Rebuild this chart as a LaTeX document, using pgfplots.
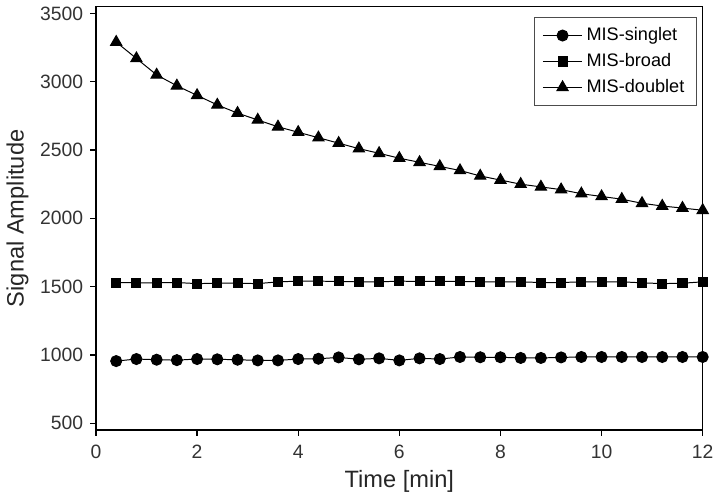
\documentclass[border=0pt]{standalone}
\usepackage{fontspec}
\setmainfont{Liberation Sans}
\usepackage{pgfplots}
\pgfplotsset{compat=1.18}
\begin{document}
\begin{tikzpicture}
\begin{axis}[
  scale only axis,
  width=308pt, height=215pt,
  xmin=0, xmax=12, ymin=450, ymax=3550,
  xtick={0,2,4,6,8,10,12},
  ytick={500,1000,1500,2000,2500,3000,3500},
  tick align=outside,
  xtick pos=bottom, ytick pos=left,
  major tick length=3pt,
  axis line style={line width=0.8pt},
  tick style={line width=0.6pt, black},
  /pgf/number format/assume math mode=true,
  /pgf/number format/1000 sep={},
  tick label style={font=\fontsize{9.8}{11}\selectfont, text=black!80},
  xticklabel style={yshift=-1pt},
  xlabel={Time [min]}, ylabel={Signal Amplitude},
  label style={font=\fontsize{12}{14}\selectfont, text=black!85},
  xlabel style={yshift=1pt},
  ylabel style={yshift=-1pt},
  legend style={at={(rel axis cs:0.99,0.975)}, anchor=north east, draw=black!70, line width=0.5pt,
    font=\fontsize{9.2}{11}\selectfont, row sep=1pt, inner xsep=4pt, inner ysep=3pt},
  legend cell align=left,
  legend image code/.code={
    \draw[mark repeat=2,mark phase=2,#1] plot coordinates {(0cm,0cm) (0.35cm,0cm) (0.7cm,0cm)};
  },
]
\addplot[black, line width=0.5pt, mark=*, mark size=2.8pt, mark options={solid, fill=black}] coordinates {
(0.4,955)(0.8,970)(1.2,965)(1.6,962)(2.0,970)(2.4,968)(2.8,965)(3.2,960)(3.6,960)(4.0,970)
(4.4,972)(4.8,982)(5.2,968)(5.6,975)(6.0,960)(6.4,975)(6.8,970)(7.2,985)(7.6,983)(8.0,983)
(8.4,978)(8.8,978)(9.2,982)(9.6,985)(10.0,985)(10.4,985)(10.8,985)(11.2,985)(11.6,985)(12.0,985)};
\addlegendentry{MIS-singlet}
\addplot[black, line width=0.5pt, mark=square*, mark size=2.3pt, mark options={solid, fill=black}] coordinates {
(0.4,1530)(0.8,1528)(1.2,1528)(1.6,1530)(2.0,1522)(2.4,1525)(2.8,1525)(3.2,1522)(3.6,1535)(4.0,1540)
(4.4,1540)(4.8,1538)(5.2,1535)(5.6,1535)(6.0,1540)(6.4,1538)(6.8,1538)(7.2,1538)(7.6,1535)(8.0,1535)
(8.4,1535)(8.8,1530)(9.2,1530)(9.6,1535)(10.0,1535)(10.4,1535)(10.8,1528)(11.2,1522)(11.6,1525)(12.0,1535)};
\addlegendentry{MIS-broad}
\addplot[black, line width=0.5pt, mark=triangle*, mark size=3.3pt, mark options={solid, fill=black}] coordinates {
(0.4,3290)(0.8,3170)(1.2,3050)(1.6,2970)(2.0,2900)(2.4,2830)(2.8,2770)(3.2,2720)(3.6,2670)(4.0,2630)
(4.4,2590)(4.8,2550)(5.2,2510)(5.6,2476)(6.0,2440)(6.4,2410)(6.8,2380)(7.2,2350)(7.6,2310)(8.0,2280)
(8.4,2250)(8.8,2230)(9.2,2210)(9.6,2180)(10.0,2160)(10.4,2140)(10.8,2110)(11.2,2090)(11.6,2075)(12.0,2059)};
\addlegendentry{MIS-doublet}
\end{axis}
\end{tikzpicture}
\end{document}
